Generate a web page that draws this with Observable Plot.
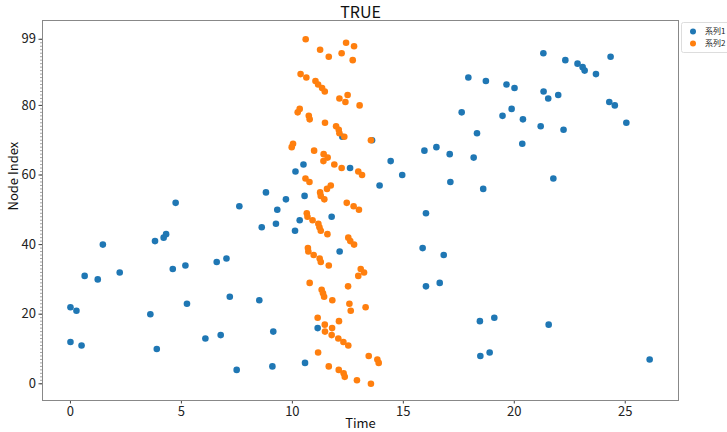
<!DOCTYPE html>
<html>
<head>
<meta charset="utf-8">
<script src="https://cdn.jsdelivr.net/npm/d3@7"></script>
<script src="https://cdn.jsdelivr.net/npm/@observablehq/plot@0.6"></script>
<style>
  body { margin: 0; background: #fff; }
  #chart svg { display: block; }
</style>
</head>
<body>
<div id="chart"></div>
<script>
const seriesNames = ["系列1", "系列2"];
const seriesColors = ["#1f77b4", "#ff7f0e"];
const xTicks = [0, 5, 10, 15, 20, 25];
const yTicks = [0, 20, 40, 60, 80, 99];

const s1Time = [0,0.27,0,0.5,0.64,1.23,1.46,2.22,3.6,3.81,3.89,4.2,4.31,4.61,4.74,5.18,5.25,6.08,6.59,6.77,7.03,7.18,7.49,7.61,8.81,9.32,8.62,9.26,8.51,9.14,9.1,12.25,13.59,14.43,10.5,10.14,12.6,13.93,10.55,9.71,10.33,11.77,10.12,12.13,11.14,10.57,21.31,24.34,22.3,22.85,23.08,23.17,23.68,17.93,18.72,19.65,20.01,21.32,21.98,21.53,24.28,24.53,19.88,17.63,19.47,20.39,25.05,21.19,22.22,18.32,20.36,16.49,15.95,17.09,18.17,14.95,17.12,21.76,18.6,16.02,15.87,16.82,16.02,16.64,18.45,19.1,21.55,18.47,18.89,26.1];
const s1Node = [22,21,12,11,31,30,40,32,20,41,10,42,43,33,52,34,23,13,35,14,36,25,4,51,55,50,45,46,24,15,5,71,70,64,63,61,62,57,54,53,47,48,44,38,16,6,95,94,93,92,91,90,89,88,87,86,85,84,83,82,81,80,79,78,77,76,75,74,73,72,69,68,67,66,65,60,58,59,56,49,39,37,28,29,18,19,17,8,9,7];

const s2Time = [10.6,11.25,11.64,12.42,12.78,12.22,12.72,10.37,10.63,11.04,11.16,11.34,11.46,12.49,12.12,12.39,13.03,10.33,10.24,10.74,10.78,11.47,11.97,12.09,12.12,12.34,13.54,10.03,9.97,10.98,11.41,11.59,11.4,11.89,12.22,12.97,13.14,10.59,10.77,11.73,11.56,11.25,11.28,11.44,12.45,12.76,13.0,10.65,10.68,10.91,11.17,11.22,11.28,11.58,12.52,12.61,12.78,10.7,10.72,10.96,11.23,11.28,11.64,13.08,13.23,12.97,10.78,12.51,11.32,11.38,11.43,11.8,12.57,13.3,12.63,11.14,12.1,11.46,11.79,11.47,11.77,12.07,12.3,12.52,11.16,13.44,13.83,13.89,11.64,12.09,12.31,12.36,12.91,13.54];
const s2Node = [99,96,94,98,97,95,93,89,88,87,86,85,84,83,82,81,80,79,78,77,76,75,74,73,72,71,70,69,68,67,66,65,64,63,62,61,60,59,58,57,56,55,54,53,52,51,50,49,48,47,46,45,44,43,42,41,40,39,38,37,36,35,34,33,32,31,29,28,27,26,25,24,23,22,21,19,18,17,16,15,14,13,12,11,9,8,7,6,5,4,3,2,1,0];

const data = [
  ...s1Time.map((t, i) => ({time: t, node: s1Node[i], series: seriesNames[0]})),
  ...s2Time.map((t, i) => ({time: t, node: s2Node[i], series: seriesNames[1]}))
];

const font = "'Noto Sans CJK JP', 'Noto Sans', sans-serif";

const chart = Plot.plot({
  width: 727,
  height: 432,
  marginLeft: 42,
  marginRight: 49,
  marginTop: 20,
  marginBottom: 32,
  style: {fontFamily: font, background: "#fff", color: "#222"},
  x: {domain: [-1.26, 27.4]},
  y: {domain: [-4.8, 104.4]},
  color: {domain: seriesNames, range: seriesColors},
  marks: [
    Plot.axisX({ticks: xTicks, tickSize: 3.5, tickPadding: 3, fontSize: 13, label: null, stroke: "#444"}),
    Plot.axisY({ticks: d3.range(0, 100), tickSize: 2, text: null, label: null, stroke: "#666", strokeWidth: 0.6}),
    Plot.axisY({ticks: yTicks, tickSize: 3.5, tickPadding: 3, fontSize: 13, label: null, stroke: "#444"}),
    Plot.frame({stroke: "#888", strokeWidth: 1}),
    Plot.dot(data, {x: "time", y: "node", fill: "series", r: 3.3}),
    Plot.text(["TRUE"], {frameAnchor: "top", lineAnchor: "middle", dy: -8, fontSize: 16, fill: "#111"}),
    Plot.text(["Time"], {frameAnchor: "bottom", lineAnchor: "middle", dy: 23, fontSize: 13, fill: "#111"}),
    Plot.text(["Node Index"], {frameAnchor: "left", dx: -29, rotate: -90, fontSize: 13, fill: "#111"})
  ]
});

document.getElementById("chart").appendChild(chart);

// legend (decoration) at top right
const svg = d3.select(chart);
const lg = svg.append("g").attr("font-family", font).attr("font-size", 8).attr("text-anchor", "start");
lg.append("rect").attr("x", 681.5).attr("y", 22.5).attr("width", 52).attr("height", 30)
  .attr("fill", "#fff").attr("stroke", "#ddd").attr("rx", 2);
seriesNames.forEach((name, i) => {
  const y = 31.5 + i * 12;
  lg.append("circle").attr("cx", 693).attr("cy", y).attr("r", 3).attr("fill", seriesColors[i]);
  lg.append("text").attr("x", 705).attr("y", y).attr("dy", "0.35em").attr("fill", "#222").text(name);
});
</script>
</body>
</html>
